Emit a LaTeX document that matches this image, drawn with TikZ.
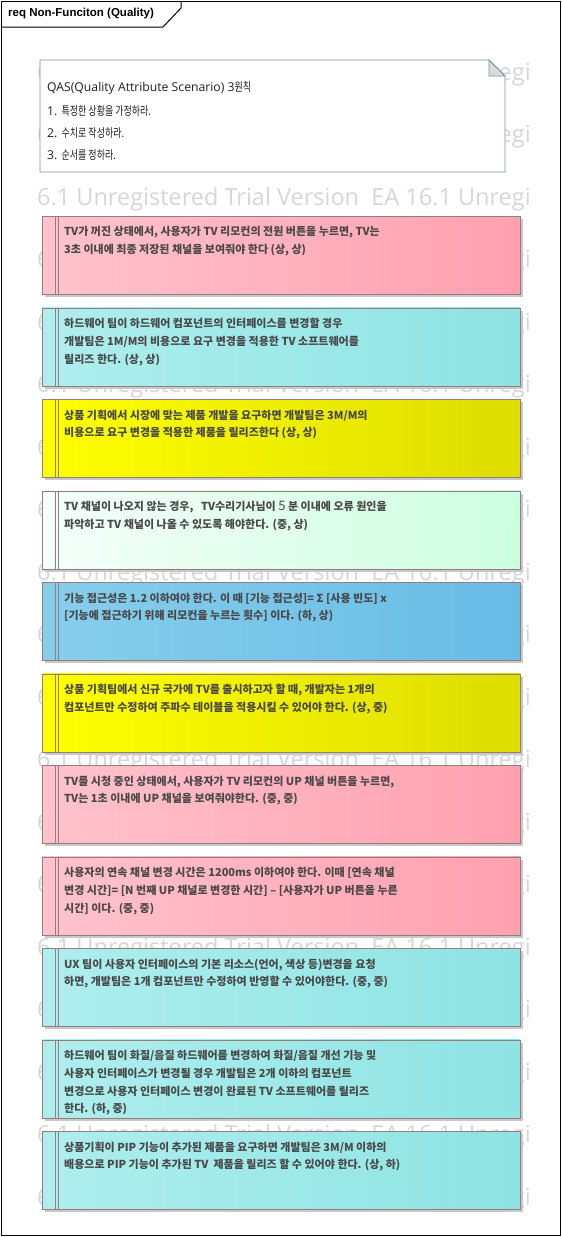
\documentclass[tikz,border=0pt]{standalone}
\usepackage{fontspec}
\usepackage{graphicx}
\usetikzlibrary{shadows}
\newfontfamily\kr{Noto Sans CJK KR}
\newfontfamily\osans{Open Sans}
\newfontfamily\lsans{Liberation Sans}
\definecolor{boxc}{RGB}{150,125,125}
\definecolor{shadc}{RGB}{200,200,200}
\definecolor{txtc}{RGB}{72,72,72}
\definecolor{notec}{RGB}{120,150,170}
\definecolor{foldc}{RGB}{220,220,220}
\definecolor{wmc}{RGB}{214,214,214}
\definecolor{pinkL}{RGB}{255,195,205}
\definecolor{pinkR}{RGB}{255,160,176}
\definecolor{cyanL}{RGB}{175,238,238}
\definecolor{cyanR}{RGB}{142,227,227}
\definecolor{yelL}{RGB}{255,255,0}
\definecolor{yelR}{RGB}{221,221,0}
\definecolor{mintL}{RGB}{245,255,250}
\definecolor{mintR}{RGB}{204,255,224}
\definecolor{blueL}{RGB}{135,206,235}
\definecolor{blueR}{RGB}{104,188,230}
\tikzset{
  reqbox/.style={draw=boxc, line width=0.8pt, minimum width=478pt, minimum height=78pt,
    inner sep=0pt, anchor=north west,
    drop shadow={shadow xshift=3pt, shadow yshift=-3pt, fill=shadc, opacity=1}},
  strip/.style={draw=boxc, line width=0.8pt},
  reqtext/.style={font=\kr\bfseries\fontsize{11}{17.8}\selectfont, text=txtc, align=left,
    inner sep=0pt, anchor=north west},
  notetext/.style={text=black!88, inner sep=0pt, anchor=west},
  wm/.style={font=\osans\fontsize{23.5}{23.5}\selectfont, text=wmc, inner sep=0pt, anchor=west},
}
\newcommand\lt[1]{{\osans\fontsize{12.2}{22}\selectfont #1}}
\newcommand\hg[1]{\scalebox{0.75}[1]{\kr\fontsize{12}{22}\selectfont #1}}
\newcommand\reqitem[5]{%
  \node[reqbox, left color=#3, right color=#4] (#1) at (42,#2) {};
  \draw[strip] ([xshift=13pt]#1.north west) -- ([xshift=13pt]#1.south west);
  \draw[strip] ([xshift=16pt]#1.north west) -- ([xshift=16pt]#1.south west);
  \node[reqtext] (#1t) at ([xshift=22pt,yshift=-10.5pt]#1.north west) {#5};
}
\begin{document}
\begin{tikzpicture}[x=1pt,y=-1pt]
\useasboundingbox (0,0) rectangle (562,1237);
% frame
\draw[black, line width=1pt] (1,1) rectangle (560,1235);
\draw[black, line width=1pt] (1,27) -- (163,27) -- (181,8) -- (181,1);
\node[anchor=west, inner sep=0pt, font=\lsans\bfseries\fontsize{11.5}{12}\selectfont] (title) at (8,14) {req Non-Funciton (Quality)};
% watermark
\begin{scope}
  \clip (36,30) rectangle (531,1230);
  \foreach \i in {0,...,18} {
    \node[wm] (wm\i) at (37,74+62.5*\i) {6.1 Unregistered Trial Version\ \ EA 16.1 Unregistered Trial Version};
  }
\end{scope}
% note
\draw[notec, fill=white, line width=0.8pt] (40,60) -- (489,60) -- (505,76) -- (505,172) -- (40,172) -- cycle;
\draw[notec, fill=foldc, line width=0.8pt] (489,60) -- (489,76) -- (505,76) -- cycle;
\node[notetext] (n1) at (47,88) {\lt{QAS(Quality Attribute Scenario) 3}\hg{원칙}};
\node[notetext] (n2) at (47,110.5) {\lt{1. }\hg{특정한 상황을 가정하라.}};
\node[notetext] (n3) at (47,133) {\lt{2. }\hg{수치로 작성하라.}};
\node[notetext] (n4) at (47,155.5) {\lt{3. }\hg{순서를 정하라.}};
% requirements
\reqitem{r1}{216}{pinkL}{pinkR}{TV가 꺼진 상태에서, 사용자가 TV 리모컨의 전원 버튼을 누르면, TV는\\3초 이내에 최종 저장된 채널을 보여줘야 한다 (상, 상)}
\reqitem{r2}{307.5}{cyanL}{cyanR}{하드웨어 팀이 하드웨어 컴포넌트의 인터페이스를 변경할 경우\\개발팀은 1M/M의 비용으로 요구 변경을 적용한 TV 소프트웨어를\\릴리즈 한다. (상, 상)}
\reqitem{r3}{399}{yelL}{yelR}{상품 기획에서 시장에 맞는 제품 개발을 요구하면 개발팀은 3M/M의\\비용으로 요구 변경을 적용한 제품을 릴리즈한다 (상, 상)}
\reqitem{r4}{490.5}{mintL}{mintR}{TV 채널이 나오지 않는 경우,\ \ \ TV수리기사님이 {\mdseries\fontsize{13}{17.8}\selectfont 5} 분 이내에 오류 원인을\\파악하고 TV 채널이 나올 수 있도록 해야한다. (중, 상)}
\reqitem{r5}{582}{blueL}{blueR}{기능 접근성은 1.2 이하여야 한다. 이 때 [기능 접근성]= Σ [사용 빈도] x\\\relax[기능에 접근하기 위해 리모컨을 누르는 횟수] 이다. (하, 상)}
\reqitem{r6}{673.5}{yelL}{yelR}{상품 기획팀에서 신규 국가에 TV를 출시하고자 할 때, 개발자는 1개의\\컴포넌트만 수정하여 주파수 테이블을 적용시킬 수 있어야 한다. (상, 중)}
\reqitem{r7}{765}{pinkL}{pinkR}{TV를 시청 중인 상태에서, 사용자가 TV 리모컨의 UP 채널 버튼을 누르면,\\TV는 1초 이내에 UP 채널을 보여줘야한다. (중, 중)}
\reqitem{r8}{856.5}{pinkL}{pinkR}{사용자의 연속 채널 변경 시간은 1200ms 이하여야 한다. 이때 [연속 채널\\변경 시간]= [N 번째 UP 채널로 변경한 시간] – [사용자가 UP 버튼을 누른\\시간] 이다. (중, 중)}
\reqitem{r9}{948}{cyanL}{cyanR}{UX 팀이 사용자 인터페이스의 기본 리소스(언어, 색상 등)변경을 요청\\하면, 개발팀은 1개 컴포넌트만 수정하여 반영할 수 있어야한다. (중, 중)}
\reqitem{r10}{1039.5}{cyanL}{cyanR}{하드웨어 팀이 화질/음질 하드웨어를 변경하여 화질/음질 개선 기능 및\\사용자 인터페이스가 변경될 경우 개발팀은 2개 이하의 컴포넌트\\변경으로 사용자 인터페이스 변경이 완료된 TV 소프트웨어를 릴리즈\\한다. (하, 중)}
\reqitem{r11}{1131}{cyanL}{cyanR}{상품기획이 PIP 기능이 추가된 제품을 요구하면 개발팀은 3M/M 이하의\\배용으로 PIP 기능이 추가된 TV\ \ 제품을 릴리즈 할 수 있어야 한다. (상, 하)}
\end{tikzpicture}
\end{document}
